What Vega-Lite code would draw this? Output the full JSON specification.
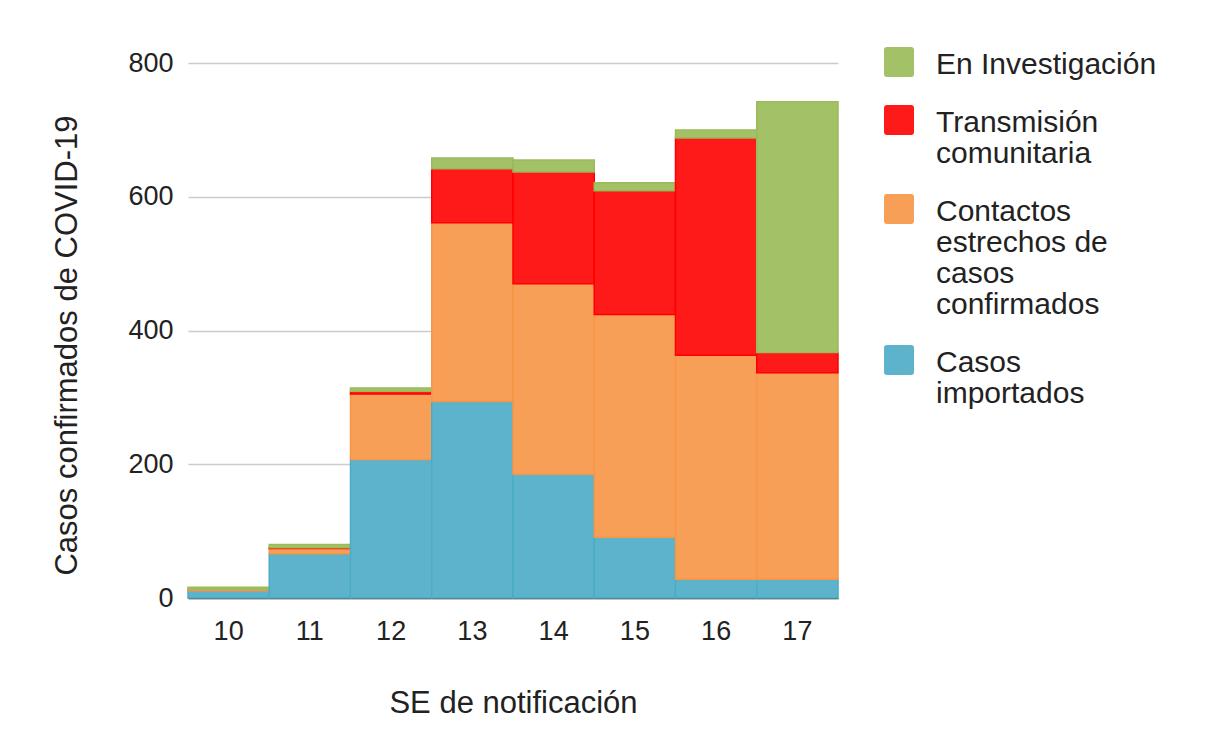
{
  "$schema": "https://vega.github.io/schema/vega-lite/v6.json",
  "autosize": "none",
  "width": 650,
  "height": 535,
  "padding": {"left": 188, "top": 63, "right": 371, "bottom": 158},
  "background": "white",
  "data": {
    "values": [
      {"semana": "10", "serie": "Casos importados", "casos": 11},
      {"semana": "10", "serie": "Contactos estrechos de casos confirmados", "casos": 2},
      {"semana": "10", "serie": "Transmisión comunitaria", "casos": 0},
      {"semana": "10", "serie": "En Investigación", "casos": 3},
      {"semana": "11", "serie": "Casos importados", "casos": 66},
      {"semana": "11", "serie": "Contactos estrechos de casos confirmados", "casos": 8},
      {"semana": "11", "serie": "Transmisión comunitaria", "casos": 1},
      {"semana": "11", "serie": "En Investigación", "casos": 5},
      {"semana": "12", "serie": "Casos importados", "casos": 207},
      {"semana": "12", "serie": "Contactos estrechos de casos confirmados", "casos": 98},
      {"semana": "12", "serie": "Transmisión comunitaria", "casos": 4},
      {"semana": "12", "serie": "En Investigación", "casos": 5},
      {"semana": "13", "serie": "Casos importados", "casos": 294},
      {"semana": "13", "serie": "Contactos estrechos de casos confirmados", "casos": 267},
      {"semana": "13", "serie": "Transmisión comunitaria", "casos": 81},
      {"semana": "13", "serie": "En Investigación", "casos": 16},
      {"semana": "14", "serie": "Casos importados", "casos": 185},
      {"semana": "14", "serie": "Contactos estrechos de casos confirmados", "casos": 285},
      {"semana": "14", "serie": "Transmisión comunitaria", "casos": 167},
      {"semana": "14", "serie": "En Investigación", "casos": 18},
      {"semana": "15", "serie": "Casos importados", "casos": 91},
      {"semana": "15", "serie": "Contactos estrechos de casos confirmados", "casos": 333},
      {"semana": "15", "serie": "Transmisión comunitaria", "casos": 185},
      {"semana": "15", "serie": "En Investigación", "casos": 12},
      {"semana": "16", "serie": "Casos importados", "casos": 28},
      {"semana": "16", "serie": "Contactos estrechos de casos confirmados", "casos": 335},
      {"semana": "16", "serie": "Transmisión comunitaria", "casos": 325},
      {"semana": "16", "serie": "En Investigación", "casos": 12},
      {"semana": "17", "serie": "Casos importados", "casos": 28},
      {"semana": "17", "serie": "Contactos estrechos de casos confirmados", "casos": 309},
      {"semana": "17", "serie": "Transmisión comunitaria", "casos": 30},
      {"semana": "17", "serie": "En Investigación", "casos": 375}
    ]
  },
  "transform": [
    {"calculate": "indexof(['En Investigación', 'Transmisión comunitaria', 'Contactos estrechos de casos confirmados', 'Casos importados'], datum.serie)", "as": "orden"}
  ],
  "mark": {"type": "bar", "strokeWidth": 1.5, "fillOpacity": 1},
  "encoding": {
    "x": {
      "field": "semana",
      "type": "ordinal",
      "scale": {"paddingInner": 0, "paddingOuter": 0},
      "axis": {
        "title": "SE de notificación",
        "titleFont": "Liberation Sans",
        "titleFontSize": 31,
        "titleFontWeight": "normal",
        "titleColor": "#222222",
        "titlePadding": 44,
        "labelFont": "Liberation Sans",
        "labelFontSize": 27,
        "labelColor": "#222222",
        "labelAngle": 0,
        "labelPadding": 20,
        "ticks": false,
        "domainColor": "#333333",
        "domainWidth": 1.5
      }
    },
    "y": {
      "field": "casos",
      "type": "quantitative",
      "stack": "zero",
      "scale": {"domain": [0, 800], "nice": false},
      "axis": {
        "title": "Casos confirmados de COVID-19",
        "titleFont": "Liberation Sans",
        "titleFontSize": 31,
        "titleFontWeight": "normal",
        "titleColor": "#222222",
        "titlePadding": 44,
        "titleY": 282,
        "labelFont": "Liberation Sans",
        "labelFontSize": 27,
        "labelColor": "#222222",
        "labelPadding": 15,
        "values": [0, 200, 400, 600, 800],
        "ticks": false,
        "domain": false,
        "gridColor": "#cccccc",
        "gridWidth": 1.5
      }
    },
    "order": {"field": "orden", "type": "quantitative", "sort": "descending"},
    "color": {
      "field": "serie",
      "type": "nominal",
      "sort": ["En Investigación", "Transmisión comunitaria", "Contactos estrechos de casos confirmados", "Casos importados"],
      "scale": {
        "domain": ["En Investigación", "Transmisión comunitaria", "Contactos estrechos de casos confirmados", "Casos importados"],
        "range": ["#a3c167", "#ff1a1a", "#f79f56", "#5eb3cc"]
      },
      "legend": {
        "title": null,
        "orient": "none",
        "legendX": 696,
        "legendY": -16,
        "labelFont": "Liberation Sans",
        "labelFontSize": 30,
        "labelColor": "#222222",
        "labelLimit": 400,
        "labelOffset": 22,
        "labelBaseline": "top",
        "rowPadding": 25,
        "symbolSize": 900,
        "symbolStrokeWidth": 0,
        "symbolOpacity": 1,
        "symbolType": "M-1,-0.8Q-1,-1,-0.8,-1L0.8,-1Q1,-1,1,-0.8L1,0.8Q1,1,0.8,1L-0.8,1Q-1,1,-1,0.8Z",
        "labelExpr": "datum.label == 'Transmisión comunitaria' ? ['Transmisión', 'comunitaria'] : datum.label == 'Contactos estrechos de casos confirmados' ? ['Contactos', 'estrechos de', 'casos', 'confirmados'] : datum.label == 'Casos importados' ? ['Casos', 'importados'] : datum.label",
        "encode": {"labels": {"update": {"dy": {"value": -12}, "lineHeight": {"value": 31}}}}
      }
    },
    "stroke": {
      "field": "serie",
      "type": "nominal",
      "legend": null,
      "scale": {
        "domain": ["En Investigación", "Transmisión comunitaria", "Contactos estrechos de casos confirmados", "Casos importados"],
        "range": ["#9bbb59", "#ff0000", "#f79646", "#4bacc6"]
      }
    }
  },
  "config": {
    "view": {"stroke": null}
  }
}
